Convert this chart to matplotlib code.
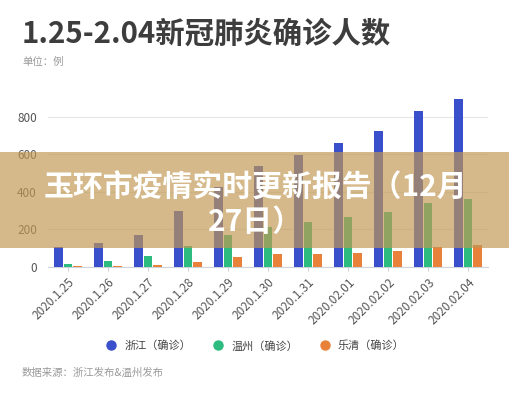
import matplotlib
matplotlib.use('Agg')
import matplotlib.pyplot as plt
import numpy as np
from matplotlib.patches import Rectangle
from matplotlib.lines import Line2D

plt.rcParams['font.family'] = ['Noto Sans CJK SC', 'DejaVu Sans']

# data
dates = ['2020.1.25', '2020.1.26', '2020.1.27', '2020.1.28', '2020.1.29', '2020.1.30',
         '2020.1.31', '2020.02.01', '2020.02.02', '2020.02.03', '2020.02.04']
zhejiang = [104, 128, 173, 296, 428, 537, 599, 661, 724, 829, 895]
wenzhou = [18, 32, 60, 114, 172, 215, 241, 265, 291, 340, 364]
yueqing = [3, 5, 12, 27, 52, 68, 70, 75, 84, 105, 115]
series_names = ['浙江（确诊）', '温州（确诊）', '乐清（确诊）']
colors = ['#3a4fcb', '#2dbb7f', '#e8823a']

fig = plt.figure(figsize=(5.1, 4.0), dpi=100)
ax = fig.add_axes([48/510, 133/400, 440/510, 169/400])

x = np.arange(len(dates))
w = 0.22
off = 0.245
for i, vals in enumerate([zhejiang, wenzhou, yueqing]):
    ax.bar(x + (i - 1)*off, vals, width=w, color=colors[i], zorder=3)

ax.set_xlim(-0.5, len(dates) - 0.5)
ax.set_ylim(0, 900)
ax.set_yticks([0, 200, 400, 600, 800])
ax.grid(axis='y', color='#e6e6e6', linewidth=0.8, zorder=0)
for s in ['top', 'right', 'left']:
    ax.spines[s].set_visible(False)
ax.spines['bottom'].set_color('#cfd3dc')
ax.tick_params(axis='y', length=0, labelsize=8.5, labelcolor='#555555', pad=8)
ax.tick_params(axis='x', length=3, color='#cfd3dc', labelsize=8.5, labelcolor='#555555')
ax.set_xticks(x)
ax.set_xticklabels(dates, rotation=45, ha='right', rotation_mode='anchor')

# header and footer
fig.text(22/510, 1 - 34/400, '1.25-2.04新冠肺炎确诊人数', fontsize=21.2, fontweight='bold',
         color='#3d3d3d', va='center', ha='left')
fig.text(22/510, 1 - 62/400, '单位：例', fontsize=7.5, color='#999999', va='center')
fig.text(22/510, 1 - 373/400, '数据来源：浙江发布&温州发布', fontsize=7.5, color='#999999', va='center')

handles = [Line2D([], [], marker='o', linestyle='', markersize=6.5, color=c) for c in colors]
fig.legend(handles, series_names, loc='center', bbox_to_anchor=(0.495, 1 - 346/400), ncol=3,
           frameon=False, fontsize=8, handletextpad=0.2, columnspacing=1.4,
           labelcolor='#444444')

# overlay banner
fig.add_artist(Rectangle((0, 152/400), 1, 96/400, transform=fig.transFigure,
                         facecolor=(193/255, 152/255, 83/255), alpha=0.68,
                         edgecolor='none', zorder=5))
fig.text(0.5, 1 - 205/400, '玉环市疫情实时更新报告（12月\n27日）', fontsize=21.5,
         fontweight='heavy', color='white', ha='center', va='center',
         linespacing=1.2, zorder=6)

fig.savefig('out.png', dpi=100)
